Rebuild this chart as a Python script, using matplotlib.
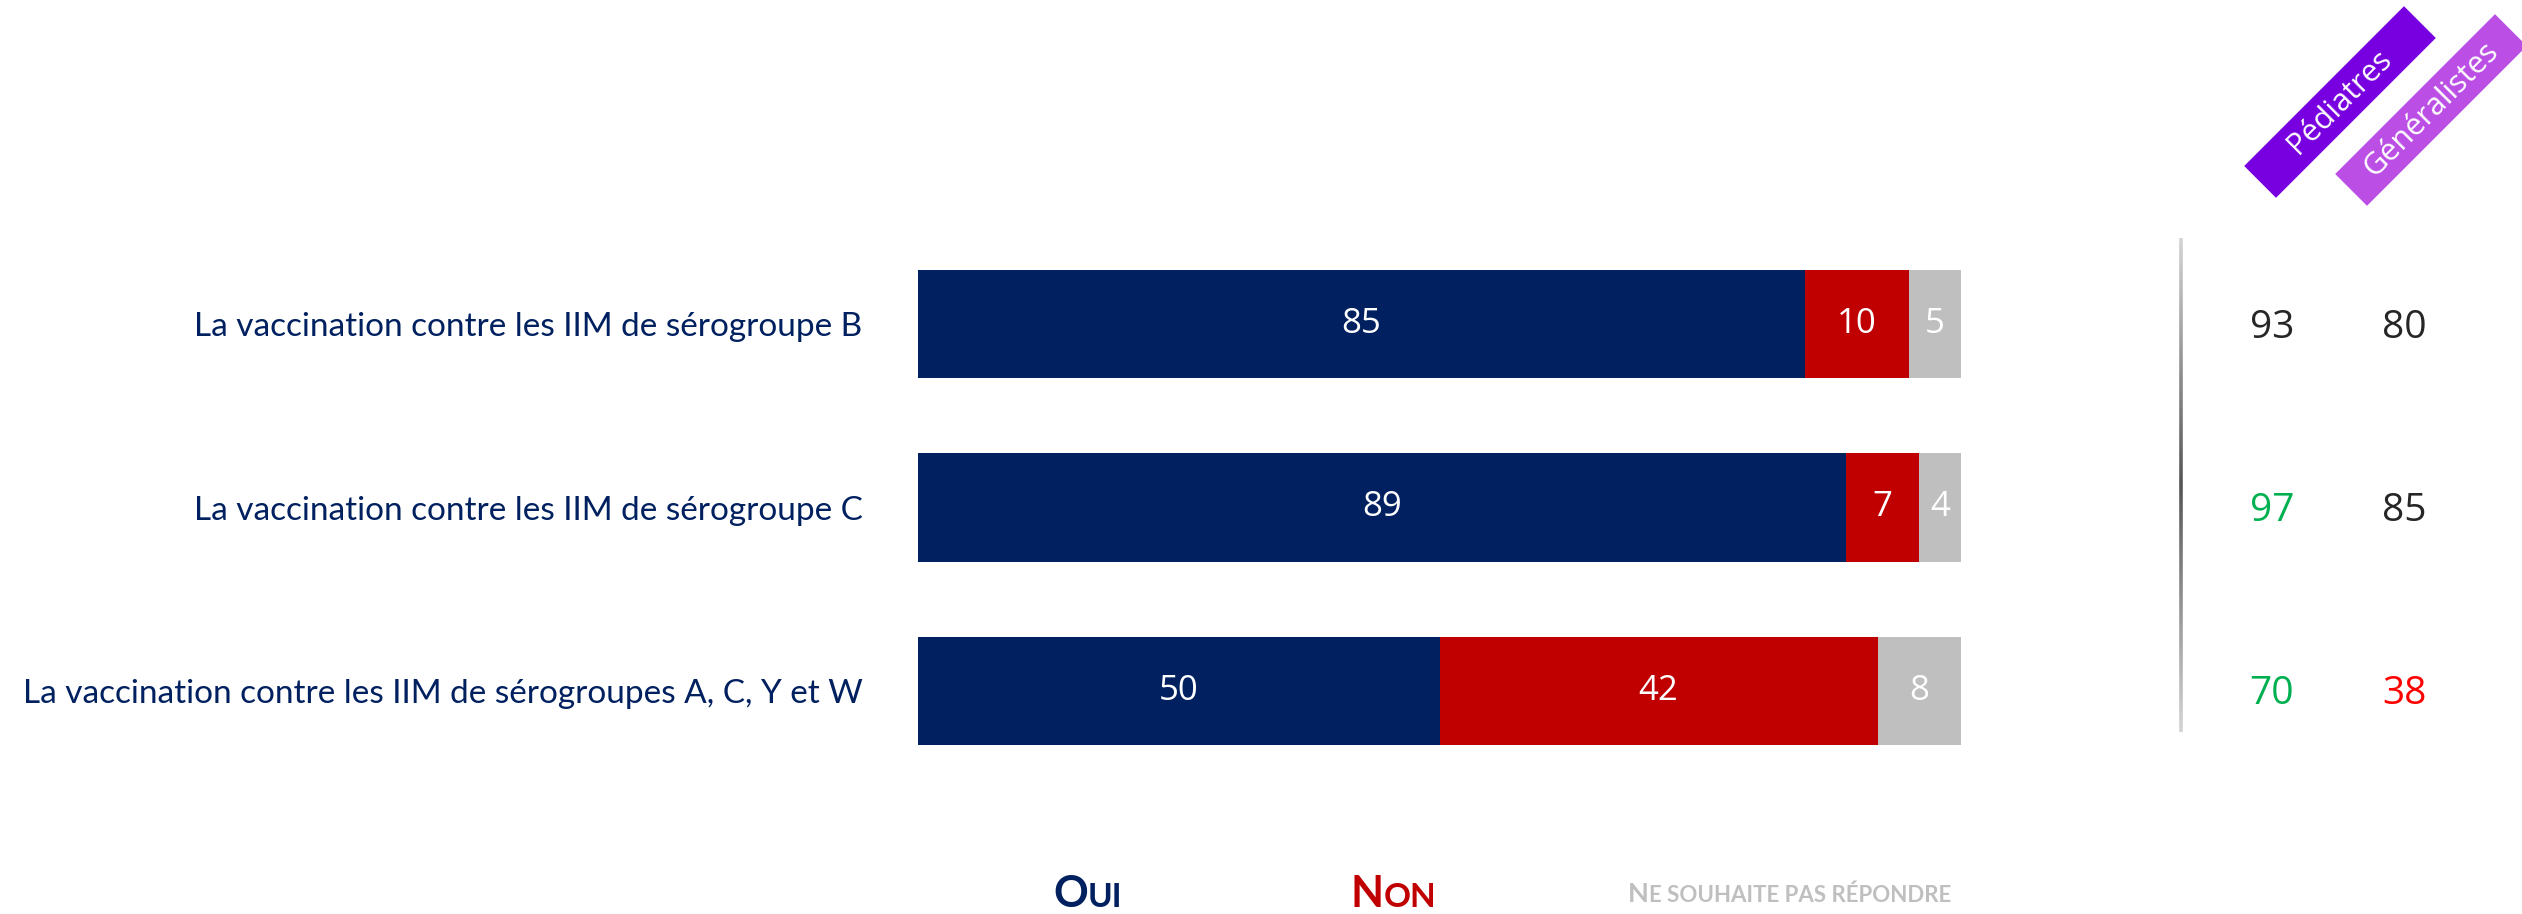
import matplotlib.pyplot as plt
import matplotlib.transforms as mtransforms
from matplotlib.patches import Rectangle
from matplotlib.collections import LineCollection
import numpy as np

# data
items = ['La vaccination contre les IIM de sérogroupe B',
         'La vaccination contre les IIM de sérogroupe C',
         'La vaccination contre les IIM de sérogroupes A, C, Y et W']
oui = [85, 89, 50]
non = [10, 7, 42]
nsp = [5, 4, 8]

groups = ['Pédiatres', 'Généralistes']
pediatres = [93, 97, 70]
generalistes = [80, 85, 38]
ped_colors = ['#262626', '#00B050', '#00B050']
gen_colors = ['#262626', '#262626', '#FF0000']

NAVY = '#002060'
RED = '#C00000'
GREY = '#BFBFBF'

W, H = 2522, 914
fig = plt.figure(figsize=(W / 100, H / 100), dpi=100)

# overlay in pixel coords (y down)
ov = fig.add_axes([0, 0, 1, 1])
ov.set_xlim(0, W)
ov.set_ylim(H, 0)
ov.axis('off')

# main bars
ax = fig.add_axes([918 / W, 1 - 782.5 / H, 1043 / W, 550 / H])
y = np.arange(len(items))
left = np.zeros(len(items))
for vals, col in [(oui, NAVY), (non, RED), (nsp, GREY)]:
    bars = ax.barh(y, vals, left=left, height=0.59, color=col, edgecolor='none')
    ax.bar_label(bars, label_type='center', color='white', fontsize=25,
                 family='Open Sans')
    left += np.array(vals)
ax.set_xlim(0, 100)
ax.set_ylim(2.5, -0.5)
ax.set_yticks(y, items)
ax.tick_params(axis='y', length=0, pad=40, labelsize=24, labelcolor=NAVY)
for lab in ax.get_yticklabels():
    lab.set_family('Lato')
ax.set_xticks([])
for s in ax.spines.values():
    s.set_visible(False)

# right-hand columns
tr = mtransforms.blended_transform_factory(fig.transFigure, ax.transData)
for i in range(len(items)):
    ax.text(2272 / W, y[i] + 0.02, str(pediatres[i]), transform=tr, ha='center', va='center',
            fontsize=28, color=ped_colors[i], family='Open Sans')
    ax.text(2404 / W, y[i] + 0.02, str(generalistes[i]), transform=tr, ha='center', va='center',
            fontsize=28, color=gen_colors[i], family='Open Sans')

# separator with grey gradient
ys = np.linspace(238, 732, 120)
segs = [[(2181, ys[k]), (2181, ys[k + 1])] for k in range(len(ys) - 1)]
mid = np.abs(np.linspace(-1, 1, len(segs)))
shade = 0.33 + 0.5 * mid
lc = LineCollection(segs, colors=[(s, s, s) for s in shade], linewidths=2.6)
ov.add_collection(lc)

# group badges
for name, cx, cy, col in [(groups[0], 2340, 102, '#7800E0'),
                          (groups[1], 2431, 110, '#BB4FE5')]:
    bw, bh = 226, 45
    ov.add_patch(Rectangle((cx - bw / 2, cy - bh / 2), bw, bh, angle=-45,
                           rotation_point='center', facecolor=col, edgecolor='none'))
    ov.text(cx, cy, name, rotation=45, rotation_mode='anchor', ha='center', va='center',
            color='white', fontsize=22, family='Open Sans')

# legend with small caps look
def small_caps(x, yb, first, rest, color, big, small):
    t = ov.text(x, yb, first, ha='left', va='baseline', color=color, fontsize=big,
                fontweight='bold', family='Lato')
    ov.annotate(rest, xy=(1, yb), xycoords=(t, 'data'), ha='left', va='baseline',
                color=color, fontsize=small, fontweight='bold', family='Lato')

small_caps(1053, 907, 'O', 'UI', NAVY, 31, 24)
small_caps(1351, 907, 'N', 'ON', RED, 31, 24)
small_caps(1628, 902, 'N', 'E SOUHAITE PAS RÉPONDRE', GREY, 19.5, 16)

fig.savefig('out.png', dpi=100)
